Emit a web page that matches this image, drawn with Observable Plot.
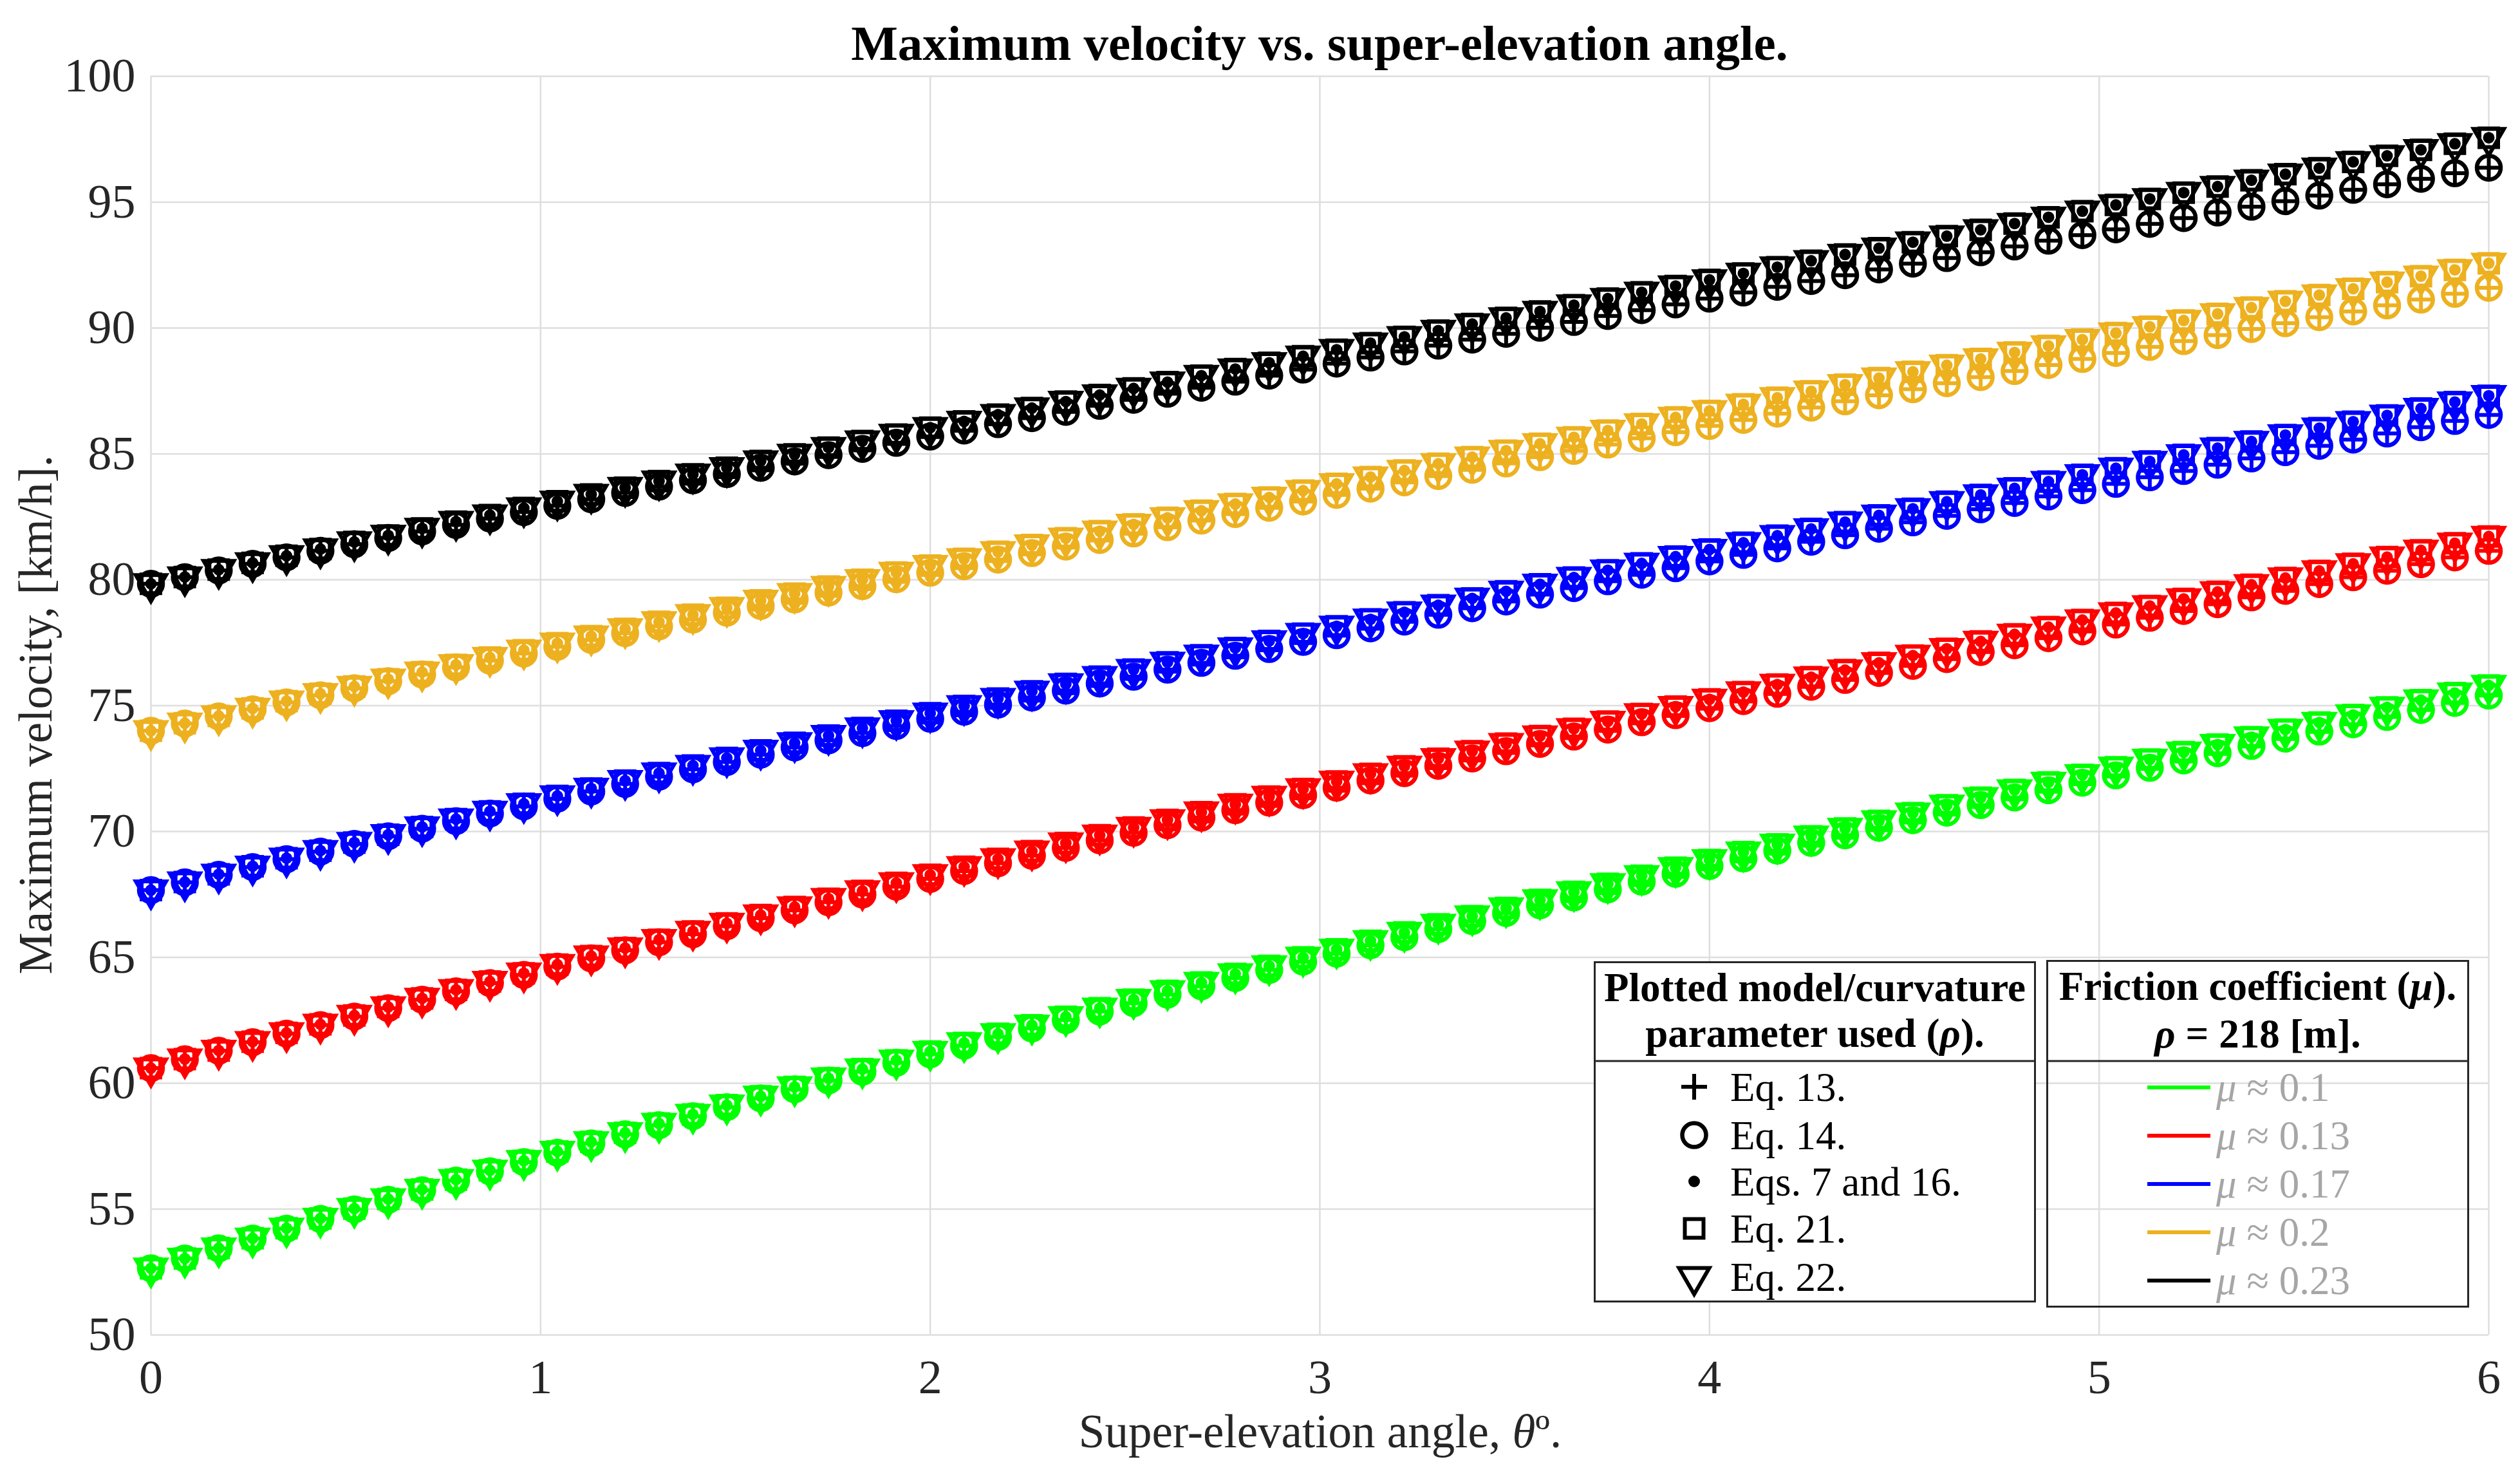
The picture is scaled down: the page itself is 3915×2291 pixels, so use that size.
<!DOCTYPE html>
<html><head><meta charset="utf-8">
<script src="https://cdn.jsdelivr.net/npm/d3@7"></script>
<script src="https://cdn.jsdelivr.net/npm/@observablehq/plot@0.6"></script>
<style>
html,body{margin:0;padding:0;background:#fff;overflow:hidden}
#wrap{position:relative;width:3915px;height:2291px;font-family:"Liberation Serif","Times New Roman",Times,serif;color:#000}
.t{position:absolute;white-space:nowrap;line-height:1}
</style></head>
<body><div id="wrap"></div>
<script>
// ---------- DATA ----------
const theta = [0,0.087,0.174,0.261,0.348,0.435,0.522,0.609,0.696,0.783,
0.870,0.957,1.043,1.130,1.217,1.304,1.391,1.478,1.565,1.652,
1.739,1.826,1.913,2.000,2.087,2.174,2.261,2.348,2.435,2.522,
2.609,2.696,2.783,2.870,2.957,3.043,3.130,3.217,3.304,3.391,
3.478,3.565,3.652,3.739,3.826,3.913,4.000,4.087,4.174,4.261,
4.348,4.435,4.522,4.609,4.696,4.783,4.870,4.957,5.043,5.130,
5.217,5.304,5.391,5.478,5.565,5.652,5.739,5.826,5.913,6.000];

// Eq. 13 / Eq. 14 (lower branch) and Eqs. 7&16 / 21 / 22 (upper branch), km/h
const lowerMu010 = [52.65,53.04,53.44,53.83,54.22,54.61,54.99,55.37,55.75,56.13,
56.50,56.87,57.24,57.61,57.97,58.33,58.69,59.05,59.40,59.76,
60.11,60.46,60.81,61.15,61.49,61.84,62.18,62.51,62.85,63.18,
63.52,63.85,64.18,64.50,64.83,65.15,65.48,65.80,66.12,66.44,
66.76,67.07,67.38,67.70,68.01,68.32,68.63,68.93,69.24,69.55,
69.85,70.15,70.45,70.75,71.05,71.35,71.64,71.94,72.23,72.53,
72.82,73.11,73.40,73.69,73.97,74.26,74.55,74.83,75.11,75.40];
const upperMu010 = [52.65,53.04,53.45,53.84,54.24,54.63,55.02,55.40,55.78,56.17,
56.54,56.92,57.29,57.67,58.03,58.40,58.76,59.13,59.48,59.85,
60.20,60.56,60.91,61.26,61.60,61.96,62.30,62.64,62.98,63.32,
63.67,64.00,64.34,64.66,65.00,65.32,65.66,65.99,66.31,66.64,
66.96,67.28,67.60,67.92,68.24,68.56,68.87,69.18,69.49,69.81,
70.12,70.42,70.73,71.04,71.34,71.65,71.95,72.25,72.55,72.86,
73.15,73.45,73.75,74.05,74.33,74.63,74.93,75.22,75.50,75.80];
const lowerMu013 = [60.60,60.95,61.29,61.63,61.97,62.31,62.65,62.98,63.32,63.65,
63.98,64.30,64.63,64.96,65.28,65.60,65.92,66.24,66.56,66.87,
67.19,67.50,67.81,68.12,68.43,68.74,69.04,69.35,69.65,69.95,
70.25,70.55,70.85,71.15,71.44,71.74,72.03,72.32,72.61,72.90,
73.19,73.48,73.77,74.05,74.34,74.62,74.90,75.18,75.47,75.75,
76.02,76.30,76.58,76.85,77.13,77.40,77.68,77.95,78.22,78.49,
78.76,79.03,79.30,79.56,79.83,80.10,80.36,80.62,80.89,81.15];
const upperMu013 = [60.60,60.96,61.30,61.65,62.00,62.34,62.69,63.03,63.37,63.71,
64.04,64.37,64.71,65.05,65.37,65.70,66.03,66.35,66.68,67.00,
67.33,67.64,67.96,68.28,68.60,68.91,69.22,69.54,69.85,70.16,
70.46,70.77,71.08,71.39,71.69,71.99,72.29,72.59,72.89,73.19,
73.49,73.79,74.08,74.37,74.67,74.96,75.25,75.54,75.84,76.13,
76.41,76.70,76.99,77.26,77.55,77.83,78.12,78.40,78.68,78.96,
79.24,79.52,79.80,80.07,80.35,80.63,80.90,81.17,81.45,81.72];
const lowerMu017 = [67.67,67.98,68.28,68.59,68.90,69.20,69.51,69.81,70.11,70.41,
70.71,71.00,71.30,71.59,71.89,72.18,72.47,72.76,73.05,73.34,
73.62,73.91,74.19,74.48,74.76,75.04,75.32,75.60,75.88,76.15,
76.43,76.70,76.98,77.25,77.53,77.80,78.07,78.34,78.61,78.87,
79.14,79.41,79.67,79.94,80.20,80.46,80.73,80.99,81.25,81.51,
81.77,82.03,82.28,82.54,82.80,83.05,83.31,83.56,83.81,84.07,
84.32,84.57,84.82,85.07,85.32,85.57,85.81,86.06,86.31,86.55];
const upperMu017 = [67.67,67.99,68.30,68.62,68.94,69.24,69.56,69.87,70.18,70.49,
70.80,71.10,71.41,71.71,72.02,72.32,72.62,72.92,73.22,73.52,
73.81,74.11,74.40,74.70,74.99,75.28,75.57,75.86,76.15,76.43,
76.72,77.00,77.29,77.57,77.86,78.15,78.43,78.71,78.99,79.26,
79.54,79.82,80.09,80.38,80.65,80.92,81.20,81.47,81.75,82.02,
82.29,82.56,82.82,83.10,83.37,83.63,83.90,84.17,84.43,84.70,
84.96,85.23,85.49,85.75,86.02,86.28,86.53,86.80,87.06,87.31];
const lowerMu020 = [74.00,74.29,74.57,74.85,75.13,75.41,75.69,75.97,76.24,76.52,
76.79,77.07,77.34,77.61,77.88,78.15,78.42,78.69,78.96,79.22,
79.49,79.75,80.02,80.28,80.54,80.80,81.06,81.32,81.58,81.84,
82.09,82.35,82.61,82.86,83.11,83.37,83.62,83.87,84.12,84.37,
84.62,84.87,85.12,85.37,85.62,85.86,86.11,86.35,86.60,86.84,
87.09,87.33,87.57,87.81,88.05,88.29,88.53,88.77,89.01,89.25,
89.48,89.72,89.96,90.19,90.43,90.66,90.90,91.13,91.36,91.60];
const upperMu020 = [74.00,74.30,74.59,74.89,75.18,75.47,75.76,76.05,76.33,76.62,
76.91,77.20,77.48,77.76,78.05,78.33,78.61,78.89,79.18,79.45,
79.73,80.00,80.29,80.56,80.83,81.11,81.38,81.65,81.93,82.20,
82.46,82.74,83.01,83.27,83.54,83.81,84.08,84.34,84.61,84.87,
85.13,85.40,85.66,85.93,86.19,86.45,86.71,86.97,87.23,87.49,
87.75,88.01,88.26,88.52,88.77,89.03,89.29,89.54,89.80,90.05,
90.30,90.56,90.81,91.06,91.31,91.56,91.82,92.06,92.31,92.57];
const lowerMu023 = [79.84,80.10,80.37,80.63,80.89,81.15,81.41,81.66,81.92,82.18,
82.43,82.69,82.94,83.20,83.45,83.70,83.95,84.20,84.45,84.70,
84.95,85.20,85.44,85.69,85.93,86.18,86.42,86.67,86.91,87.15,
87.39,87.63,87.87,88.11,88.35,88.59,88.83,89.07,89.30,89.54,
89.77,90.01,90.24,90.48,90.71,90.94,91.17,91.41,91.64,91.87,
92.10,92.33,92.56,92.78,93.01,93.24,93.47,93.69,93.92,94.14,
94.37,94.59,94.82,95.04,95.26,95.49,95.71,95.93,96.15,96.37];
const upperMu023 = [79.84,80.11,80.40,80.67,80.95,81.22,81.50,81.76,82.04,82.31,
82.57,82.85,83.12,83.39,83.66,83.92,84.19,84.45,84.72,84.98,
85.25,85.51,85.77,86.04,86.29,86.56,86.82,87.08,87.34,87.60,
87.85,88.11,88.37,88.62,88.88,89.14,89.40,89.65,89.90,90.16,
90.40,90.66,90.91,91.17,91.42,91.67,91.91,92.17,92.42,92.67,
92.92,93.17,93.41,93.65,93.90,94.15,94.40,94.64,94.89,95.13,
95.38,95.62,95.87,96.11,96.35,96.60,96.84,97.08,97.32,97.56];

const xTicks = [0,1,2,3,4,5,6];
const yTicks = [50,55,60,65,70,75,80,85,90,95,100];
const muLabels = ["0.1","0.13","0.17","0.2","0.23"];
const modelLabels = ["Eq. 13.","Eq. 14.","Eqs. 7 and 16.","Eq. 21.","Eq. 22."];
const titleText = "Maximum velocity vs. super-elevation angle.";
const yLabelText = "Maximum velocity, [km/h].";

// ---------- STYLE ----------
const seriesColors = ["#00ff00","#ff0000","#0000ff","#edb120","#000000"];
const lowerSets = [lowerMu010,lowerMu013,lowerMu017,lowerMu020,lowerMu023];
const upperSets = [upperMu010,upperMu013,upperMu017,upperMu020,upperMu023];

const R = s => Math.sqrt(s / Math.PI);
const symPlus = {draw(c, s){ const h = R(s); c.moveTo(-h,0); c.lineTo(h,0); c.moveTo(0,-h); c.lineTo(0,h); }};
const symCircle = {draw(c, s){ const h = R(s); c.moveTo(h,0); c.arc(0,0,h,0,2*Math.PI); c.closePath(); }};
const symSquare = {draw(c, s){ const h = R(s); c.rect(-h,-h,2*h,2*h); }};
const symTriDown = {draw(c, s){ const a = R(s), y = a/Math.sqrt(3); c.moveTo(-a,-y); c.lineTo(a,-y); c.lineTo(0,2*y); c.closePath(); }};

const modelStyles = [
  {branch:"lower", symbol:symPlus,    r:20,   sw:6,   filled:false},
  {branch:"lower", symbol:symCircle,  r:18.5, sw:6.5, filled:false},
  {branch:"upper", symbol:symCircle,  r:9,    sw:0,   filled:true},
  {branch:"upper", symbol:symSquare,  r:14.5, sw:6,   filled:false},
  {branch:"upper", symbol:symTriDown, r:23.5, sw:6,   filled:false}
];

// ---------- CHART ----------
const marks = [
  Plot.gridX(xTicks, {stroke:"#dedede", strokeOpacity:1, strokeWidth:2.5}),
  Plot.gridY(yTicks, {stroke:"#dedede", strokeOpacity:1, strokeWidth:2.5}),
  Plot.axisX(xTicks, {tickSize:0, tickPadding:38, fontSize:74, color:"#262626", label:null, tickFormat:d => String(d)}),
  Plot.axisY(yTicks, {tickSize:0, tickPadding:24, fontSize:74, color:"#262626", label:null, tickFormat:d => String(d)})
];
seriesColors.forEach((col, k) => {
  const rows = theta.map((t, i) => ({theta:t, lower:lowerSets[k][i], upper:upperSets[k][i]}));
  modelStyles.forEach(m => {
    marks.push(Plot.dot(rows, {
      x:"theta", y:m.branch, symbol:m.symbol, r:m.r,
      fill: m.filled ? col : "none",
      stroke: m.filled ? "none" : col,
      strokeWidth: m.sw
    }));
  });
});

const chart = Plot.plot({
  width:3915, height:2291,
  marginLeft:234, marginRight:49, marginTop:118, marginBottom:218,
  style:{fontFamily:'"Liberation Serif","Times New Roman",serif', background:"#fff", overflow:"visible"},
  x:{domain:[0,6]},
  y:{domain:[50,100]},
  marks
});
const wrap = document.getElementById("wrap");
chart.style.position = "absolute"; chart.style.left = "0"; chart.style.top = "0";
wrap.appendChild(chart);

// ---------- LEGEND BOXES (overlay) ----------
const ns = "http://www.w3.org/2000/svg";
const lg = document.createElementNS(ns, "svg");
lg.setAttribute("width", 3915); lg.setAttribute("height", 2291);
lg.style.position = "absolute"; lg.style.left = "0"; lg.style.top = "0";
wrap.appendChild(lg);
function el(tag, attrs){ const e = document.createElementNS(ns, tag); for (const k in attrs) e.setAttribute(k, attrs[k]); lg.appendChild(e); return e; }
el("rect", {x:2477.5, y:1494.5, width:684, height:527, fill:"#fff", stroke:"#262626", "stroke-width":3});
el("line", {x1:2476, x2:3163, y1:1648, y2:1648, stroke:"#262626", "stroke-width":3});
el("rect", {x:3180.5, y:1492.5, width:654, height:537, fill:"none", stroke:"#262626", "stroke-width":3});
el("line", {x1:3179, x2:3836, y1:1648, y2:1648, stroke:"#262626", "stroke-width":3});

const leftCenters = [1688,1763,1835,1908,1983];
const leftBase = [1711,1786,1858,1931,2006];
const rightLineY = [1689,1764,1839,1914,1989];

modelStyles.forEach((m, j) => {
  const p = d3.path(); m.symbol.draw(p, Math.PI * m.r * m.r);
  el("path", {d:p.toString(), transform:`translate(2632,${leftCenters[j]})`,
    fill: m.filled ? "#000" : "none", stroke: m.filled ? "none" : "#000", "stroke-width": m.sw});
});
seriesColors.forEach((col, k) => {
  el("line", {x1:3336, x2:3434, y1:rightLineY[k], y2:rightLineY[k], stroke:col, "stroke-width":6});
});

// ---------- TEXT ----------
function txt(html, o){
  const d = document.createElement("div");
  d.className = "t"; d.innerHTML = html;
  d.style.fontSize = o.size + "px";
  d.style.fontWeight = o.bold ? "bold" : "normal";
  d.style.color = o.color || "#000";
  d.style.top = (o.baseline - 0.8375 * o.size) + "px";
  d.style.left = o.x + "px";
  if (o.anchor === "middle") d.style.transform = "translateX(-50%)";
  wrap.appendChild(d); return d;
}
txt(titleText, {x:2050, baseline:93, size:77, bold:true, anchor:"middle"});
txt("Super-elevation angle, <i>θ</i>º.", {x:2051, baseline:2248, size:73, anchor:"middle", color:"#262626"});
const yl = document.createElement("div");
yl.className = "t"; yl.textContent = yLabelText;
Object.assign(yl.style, {fontSize:"73px", color:"#262626", left:"55px", top:"1110px", transform:"translate(-50%,-50%) rotate(-90deg)"});
wrap.appendChild(yl);

txt("Plotted model/curvature", {x:2819.5, baseline:1556, size:63, bold:true, anchor:"middle"});
txt("parameter used (<i>ρ</i>).", {x:2819.5, baseline:1627, size:63, bold:true, anchor:"middle"});
txt("Friction coefficient (<i>μ</i>).", {x:3507.5, baseline:1554, size:63, bold:true, anchor:"middle"});
txt("<i>ρ</i> = 218 [m].", {x:3507.5, baseline:1628, size:63, bold:true, anchor:"middle"});
modelLabels.forEach((s, j) => txt(s, {x:2688, baseline:leftBase[j], size:63}));
muLabels.forEach((s, k) => txt(`<i>μ</i> ≈ ${s}`, {x:3443, baseline:rightLineY[k] + 22, size:63, color:"#a6a6a6"}));
</script>
</body></html>
